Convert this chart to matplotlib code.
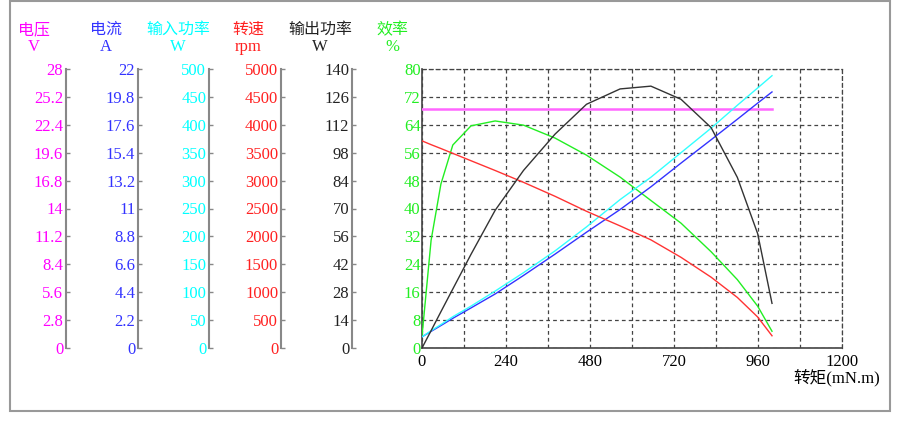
import matplotlib.pyplot as plt
from matplotlib.patches import Rectangle

plt.rcParams['font.family'] = ['Liberation Serif', 'Noto Sans CJK SC', 'DejaVu Sans']

# torque (mN.m) measurement points
torque = [0, 26, 54, 88, 140, 209, 290, 380, 470, 566, 654, 740, 826, 901, 959, 1000]
voltage = [24, 24, 24, 24, 24, 24, 24, 24, 24, 24, 24, 24, 24, 24, 24, 24]
current = [0.88, 1.31, 1.77, 2.34, 3.16, 4.26, 5.72, 7.40, 9.13, 10.92, 12.71, 14.58,
           16.42, 18.04, 19.31, 20.19]
power_in = [20, 31, 42, 56, 75, 102, 135, 174, 217, 266, 306, 350, 394, 435, 466, 488]
speed = [3712, 3644, 3575, 3488, 3356, 3181, 2969, 2719, 2450, 2188, 1938, 1625,
         1269, 906, 556, 219]
power_out = [0, 8.7, 18.2, 29.6, 47, 69.1, 89.1, 107.3, 122.3, 130.0, 131.4, 124.8,
             110.6, 85.6, 57.4, 22.4]
efficiency = [3.4, 30.9, 47.0, 58.2, 63.7, 65.1, 63.9, 60.2, 55.3, 49.0, 42.3, 35.8,
              27.6, 19.6, 12.0, 4.8]

# name, unit, colour, axis max, data, spine x (px), header x (px)
scales = [
    ('电压', 'V', '#FF00FF', 28, voltage, 66, 34),
    ('电流', 'A', '#3333FF', 22, current, 138, 106),
    ('输入功率', 'W', '#00FFFF', 500, power_in, 209, 178),
    ('转速', 'rpm', '#FF2020', 5000, speed, 281, 248),
    ('输出功率', 'W', '#222222', 140, power_out, 352, 320),
]
eff_color = '#22EE22'
line_colors = ['#FF66FF', '#3333FF', '#33FFFF', '#FF3333', '#333333']

W, H = 900, 421
fig = plt.figure(figsize=(9, 4.21), dpi=100)

x0, x1, y0, y1 = 422, 842, 69, 348
pos = [x0 / W, 1 - y1 / H, (x1 - x0) / W, (y1 - y0) / H]

ax = fig.add_axes(pos)
ax.set_xlim(0, 1200)
ax.set_ylim(0, 80)
ax.set_xticks(range(0, 1201, 240))
ax.set_xticks(range(0, 1201, 120), minor=True)
ax.set_yticks(range(0, 81, 8))
ax.grid(True, which='both', color='#444444', linestyle=(0, (3, 2.5)), linewidth=0.9)
ax.tick_params(which='both', length=0)
ax.tick_params(axis='y', colors=eff_color, labelsize=12, pad=1)
ax.tick_params(axis='x', labelcolor='black', labelsize=12, pad=4)
for s in ['left', 'bottom']:
    ax.spines[s].set_color('#444444')
    ax.spines[s].set_linewidth(1.2)
for s in ['top', 'right']:
    ax.spines[s].set_color('#444444')
    ax.spines[s].set_linestyle((0, (3, 2.5)))
    ax.spines[s].set_linewidth(0.9)
ax.plot(torque, efficiency, color=eff_color, lw=1, zorder=3)

for i, (name, unit, col, top, vals, sx, hx) in enumerate(scales):
    tw = ax.twinx()
    tw.set_ylim(0, top)
    tw.axis('off')
    tw.plot(torque, vals, color=line_colors[i], lw=1.8 if i == 0 else 1)

    sa = fig.add_axes([sx / W, pos[1], 0.001, pos[3]])
    sa.set_ylim(0, top)
    sa.set_xticks([])
    ticks = [top * k / 10 for k in range(11)]
    sa.set_yticks(ticks)
    sa.set_yticklabels([f'{round(t, 1):g}' for t in ticks])
    sa.tick_params(axis='y', direction='in', length=3, width=1, color='#888888',
                   labelcolor=col, labelsize=12, pad=2)
    for s in ['top', 'right', 'bottom']:
        sa.spines[s].set_visible(False)
    sa.spines['left'].set_color('#888888')
    sa.spines['left'].set_linewidth(1.5)
    sa.patch.set_alpha(0)

    fig.text(hx / W, 1 - 30 / H, name, color=col, fontsize=11.5, ha='center', va='center')
    fig.text(hx / W, 1 - 47 / H, unit, color=col, fontsize=12, ha='center', va='center')

fig.text(392 / W, 1 - 30 / H, '效率', color=eff_color, fontsize=11.5, ha='center', va='center')
fig.text(392 / W, 1 - 47 / H, '%', color=eff_color, fontsize=12, ha='center', va='center')

fig.text(880 / W, 1 - 378 / H, '转矩(mN.m)', color='black', fontsize=12,
         ha='right', va='center')

fig.patches.append(Rectangle((10 / W, 1 - 411 / H), 880 / W, 410 / H,
                             transform=fig.transFigure, fill=False,
                             edgecolor='#999999', linewidth=1.5))

fig.savefig('out.png', dpi=100)
